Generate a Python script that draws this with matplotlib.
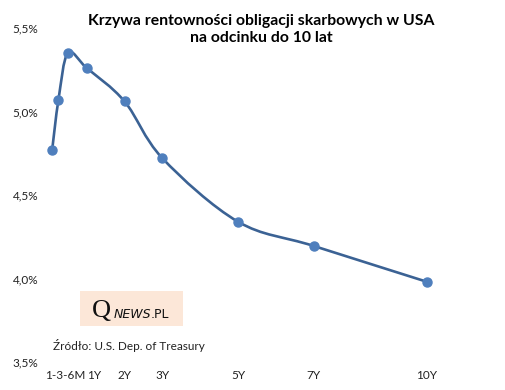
import numpy as np
import matplotlib
matplotlib.use('Agg')
import matplotlib.pyplot as plt
from matplotlib.path import Path
from matplotlib.patches import PathPatch, Rectangle

plt.rcParams['font.family'] = ['Lato', 'DejaVu Sans']

# maturities in years and yields in %
maturity = [1/12, 0.25, 0.5, 1, 2, 3, 5, 7, 10]
yields = [4.77, 5.07, 5.35, 5.26, 5.06, 4.72, 4.34, 4.195, 3.98]

tick_pos = [0.42, 1.19, 2, 3, 5, 7, 10]
tick_labels = ['1-3-6M', '1Y', '2Y', '3Y', '5Y', '7Y', '10Y']
y_ticks = [3.5, 4.0, 4.5, 5.0, 5.5]

title = 'Krzywa rentowności obligacji skarbowych w USA\nna odcinku do 10 lat'
source = 'Źródło: U.S. Dep. of Treasury'

line_col = '#3b6294'
mark_col = '#4f7fbd'

fig = plt.figure(figsize=(5.05, 3.9), dpi=100)
ax = fig.add_axes([45/505, 28/390, 455/505, 334/390])
ax.set_xlim(-0.106, 11.93)
ax.set_ylim(3.5, 5.5)

# smoothed line (Catmull-Rom as bezier segments, like Excel's smoothing)
pts = np.column_stack([maturity, yields])
ext = np.vstack([pts[0], pts, pts[-1]])
verts = [tuple(pts[0])]
codes = [Path.MOVETO]
for i in range(1, len(ext) - 2):
    p0, p1, p2, p3 = ext[i - 1], ext[i], ext[i + 1], ext[i + 2]
    c1 = p1 + (p2 - p0) / 6
    c2 = p2 - (p3 - p1) / 6
    verts += [tuple(c1), tuple(c2), tuple(p2)]
    codes += [Path.CURVE4] * 3
ax.add_patch(PathPatch(Path(verts, codes), fill=False, edgecolor=line_col,
                       lw=1.9, capstyle='round', joinstyle='round', zorder=2))
ax.plot(maturity, yields, ls='none', marker='o', ms=6.5, color=mark_col,
        mec=mark_col, zorder=3)

for s in ax.spines.values():
    s.set_visible(False)
ax.set_yticks(y_ticks)
ax.set_yticklabels([f'{v:.1f}%'.replace('.', ',') for v in y_ticks])
ax.set_xticks(tick_pos)
ax.set_xticklabels(tick_labels)
ax.tick_params(length=0, labelsize=8.5, colors='#222222')
ax.tick_params(axis='x', pad=6)
ax.tick_params(axis='y', pad=5)

fig.text(0.518, 0.965, title, ha='center', va='top', fontsize=11.3,
         fontweight='bold', linespacing=1.3)

# logo box
fig.patches.append(Rectangle((80/505, 1 - 326/390), 103/505, 35/390,
                             transform=fig.transFigure, facecolor='#fce7d8',
                             edgecolor='none', zorder=0))
fig.text(92/505, 1 - 317/390, 'Q', fontsize=19, family='Liberation Serif',
         va='baseline', ha='left', color='#111111')
fig.text(114/505, 1 - 318/390, 'NEWS', fontsize=9, family='DejaVu Sans',
         style='italic', va='baseline', ha='left', color='#111111')
fig.text(151/505, 1 - 318/390, '.PL', fontsize=9, family='DejaVu Sans',
         va='baseline', ha='left', color='#111111')

fig.text(53/505, 1 - 346/390, source, fontsize=8.5, va='center', ha='left',
         color='#222222')

fig.savefig('out.png', dpi=100)
